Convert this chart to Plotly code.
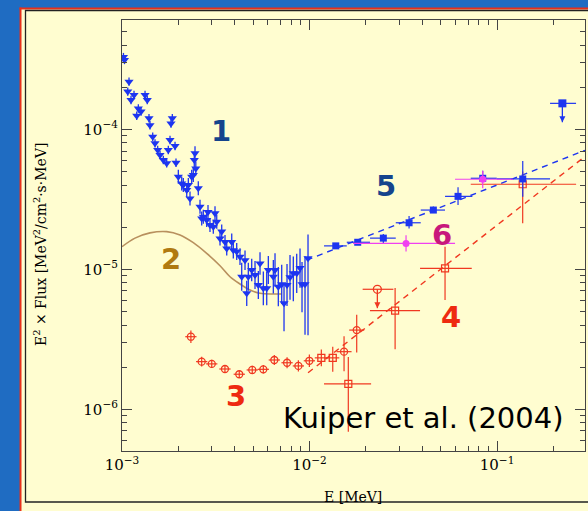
import math
import plotly.graph_objects as go

# ---------------- data ----------------
# Series 1: blue down-triangles (energy MeV, E^2 flux)
s1_energy = [1.018e-3, 1.031e-3, 1.073e-3, 1.090e-3, 1.117e-3, 1.159e-3, 1.198e-3, 1.222e-3, 1.263e-3, 1.327e-3,
             1.364e-3, 1.393e-3, 1.410e-3, 1.458e-3, 1.500e-3, 1.550e-3, 1.595e-3, 1.661e-3, 1.731e-3, 1.766e-3,
             1.803e-3, 1.825e-3, 1.855e-3, 1.918e-3, 1.941e-3, 1.997e-3, 2.082e-3, 2.123e-3, 2.214e-3, 2.258e-3,
             2.305e-3, 2.353e-3, 2.400e-3, 2.429e-3, 2.451e-3, 2.475e-3, 2.552e-3, 2.606e-3, 2.661e-3, 2.714e-3,
             2.829e-3, 2.875e-3, 2.946e-3, 3.069e-3, 3.133e-3, 3.200e-3, 3.332e-3, 3.402e-3, 3.543e-3, 3.618e-3,
             3.847e-3, 3.923e-3, 4.090e-3, 4.259e-3, 4.349e-3, 4.529e-3, 4.625e-3, 4.716e-3, 4.917e-3, 5.121e-3,
             5.333e-3, 5.445e-3, 5.671e-3, 5.912e-3, 6.030e-3, 6.412e-3, 6.546e-3, 6.817e-3, 7.107e-3, 7.311e-3,
             7.586e-3, 7.870e-3, 8.196e-3, 8.545e-3, 8.898e-3, 9.120e-3, 9.462e-3, 9.817e-3]
s1_flux = [3.28e-4, 3.13e-4, 1.86e-4, 2.19e-4, 1.62e-4, 1.76e-4, 1.25e-4, 1.41e-4, 1.34e-4, 1.76e-4,
           1.62e-4, 1.20e-4, 1.07e-4, 8.86e-5, 7.94e-5, 7.11e-5, 6.55e-5, 6.04e-5, 5.72e-5, 7.11e-5,
           8.39e-5, 1.10e-4, 1.20e-4, 7.60e-5, 5.77e-5, 4.59e-5, 4.11e-5, 4.00e-5, 3.69e-5, 4.00e-5,
           3.21e-5, 4.59e-5, 4.72e-5, 6.04e-5, 6.74e-5, 5.26e-5, 3.79e-5, 2.80e-5, 2.31e-5, 2.37e-5,
           2.25e-5, 2.57e-5, 2.07e-5, 2.01e-5, 2.51e-5, 2.19e-5, 1.66e-5, 1.86e-5, 1.57e-5, 1.41e-5,
           1.57e-5, 1.37e-5, 1.34e-5, 1.23e-5, 8.85e-6, 1.16e-5, 6.74e-6, 8.85e-6, 9.89e-6, 9.10e-6,
           7.72e-6, 1.10e-5, 7.31e-6, 7.31e-6, 9.89e-6, 8.85e-6, 9.89e-6, 7.51e-6, 7.81e-6, 5.72e-6,
           7.72e-6, 8.77e-6, 9.36e-6, 9.36e-6, 1.02e-5, 7.81e-6, 7.81e-6, 1.20e-5]
# error bars in dex (up / down)
s1_err_up_dex = [0.03] * 25 + [0.05] * 25 + [0.06, 0.06, 0.06, 0.06, 0.10, 0.07, 0.09, 0.10, 0.08, 0.10,
                                             0.10, 0.08, 0.12, 0.12, 0.10, 0.12, 0.12, 0.14, 0.14, 0.13,
                                             0.15, 0.16, 0.12, 0.14, 0.14, 0.16, 0.20, 0.17]
s1_err_dn_dex = [0.03] * 25 + [0.05] * 25 + [0.06, 0.06, 0.06, 0.06, 0.10, 0.07, 0.09, 0.10, 0.08, 0.10,
                                             0.10, 0.08, 0.12, 0.12, 0.10, 0.12, 0.12, 0.14, 0.14, 0.20,
                                             0.15, 0.16, 0.20, 0.14, 0.14, 0.20, 0.36, 0.55]

# Series 2: model curve (brown)
s2_energy = [1.000e-3, 1.173e-3, 1.410e-3, 1.731e-3, 2.039e-3, 2.400e-3, 2.829e-3, 3.332e-3, 3.767e-3,
             4.259e-3, 4.816e-3, 5.445e-3, 6.412e-3, 7.107e-3]
s2_flux = [1.45e-5, 1.67e-5, 1.82e-5, 1.86e-5, 1.76e-5, 1.55e-5, 1.30e-5, 1.06e-5, 8.85e-6,
           7.85e-6, 7.11e-6, 6.74e-6, 6.66e-6, 6.66e-6]

# Series 3: red open circles
s3_energy = [2.33e-3, 2.66e-3, 3.01e-3, 3.54e-3, 4.22e-3, 4.95e-3, 5.67e-3, 6.49e-3, 7.59e-3, 8.72e-3,
             9.98e-3, 1.528e-2, 1.785e-2]
s3_flux = [3.30e-6, 2.19e-6, 2.11e-6, 1.94e-6, 1.78e-6, 1.91e-6, 1.93e-6, 2.25e-6, 2.15e-6, 2.04e-6,
           2.22e-6, 2.58e-6, 3.68e-6]
s3_xerr_dex = [0.03] * 11 + [0.04, 0.04]
s3_err_up_dex = [0.045, 0.035, 0.03, 0.025, 0.025, 0.03, 0.03, 0.035, 0.04, 0.04, 0.045, 0.11, 0.11]
s3_err_dn_dex = [0.045, 0.035, 0.03, 0.025, 0.025, 0.03, 0.03, 0.035, 0.04, 0.04, 0.045, 0.14, 0.16]
# Series 3: red small squares
s3b_energy = [1.156e-2, 1.330e-2]
s3b_flux = [2.33e-6, 2.33e-6]
s3b_xerr_dex = [0.035, 0.035]
s3b_err_up_dex = [0.06, 0.08]
s3b_err_dn_dex = [0.06, 0.10]
# Series 3: upper limit
s3_ul_energy = [2.30e-2]
s3_ul_flux = [7.20e-6]
s3_ul_e_lo = [1.92e-2]
s3_ul_e_hi = [2.80e-2]

# Series 4: red open squares (with bounds)
s4_energy = [1.61e-2, 2.86e-2, 5.28e-2, 0.137]
s4_flux = [1.52e-6, 5.06e-6, 1.016e-5, 4.05e-5]
s4_e_lo = [1.195e-2, 2.10e-2, 3.885e-2, 7.24e-2]
s4_e_hi = [2.13e-2, 3.885e-2, 7.33e-2, 0.264]
s4_f_lo = [6.9e-7, 2.68e-6, 6.03e-6, 2.13e-5]
s4_f_hi = [2.36e-6, 7.35e-6, 1.45e-5, 5.0e-5]
# Series 4: power law (red dashed)
pl4_energy = [9.82e-3, 0.2944]
pl4_flux = [1.824e-6, 6.40e-5]

# Series 5: blue filled squares
s5_energy = [1.38e-2, 1.807e-2, 2.475e-2, 3.395e-2, 4.574e-2, 6.194e-2, 8.386e-2, 0.1371]
s5_flux = [1.47e-5, 1.56e-5, 1.67e-5, 2.15e-5, 2.65e-5, 3.32e-5, 4.47e-5, 4.42e-5]
s5_e_lo = [1.195e-2, 1.58e-2, 2.102e-2, 2.883e-2, 3.918e-2, 5.28e-2, 7.24e-2, 9.963e-2]
s5_e_hi = [1.58e-2, 2.102e-2, 2.883e-2, 3.918e-2, 5.28e-2, 7.385e-2, 9.963e-2, 0.1917]
s5_f_lo = [1.42e-5, 1.51e-5, 1.53e-5, 1.96e-5, 2.54e-5, 2.88e-5, 4.22e-5, 3.30e-5]
s5_f_hi = [1.52e-5, 1.61e-5, 1.79e-5, 2.40e-5, 2.81e-5, 3.85e-5, 5.06e-5, 5.94e-5]
s5_ul_energy = [0.223]
s5_ul_flux = [1.533e-4]
s5_ul_e_lo = [0.1917]
s5_ul_e_hi = [0.2638]
# Series 5: power law (blue dashed)
pl5_energy = [9.66e-3, 0.2944]
pl5_flux = [1.164e-5, 7.08e-5]

# Series 6: magenta
s6_energy = [3.271e-2, 8.386e-2]
s6_flux = [1.53e-5, 4.40e-5]
s6_e_lo = [1.706e-2, 5.97e-2]
s6_e_hi = [5.97e-2, 0.1217]
s6_f_lo = [1.34e-5, 3.79e-5]
s6_f_hi = [1.75e-5, 5.06e-5]

x_tick_vals = [1e-3, 1e-2, 1e-1]
x_tick_text = ["10<sup>\u22123</sup>", "10<sup>\u22122</sup>", "10<sup>\u22121</sup>"]
y_tick_vals = [1e-6, 1e-5, 1e-4]
y_tick_text = ["10<sup>\u22126</sup>", "10<sup>\u22125</sup>", "10<sup>\u22124</sup>"]

# ---------------- helpers ----------------
def dex_err(vals, up, dn):
    return ([v * (10 ** u - 1) for v, u in zip(vals, up)],
            [v * (1 - 10 ** (-d)) for v, d in zip(vals, dn)])

def bound_err(vals, lo, hi):
    return ([h - v for v, h in zip(vals, hi)], [v - l for v, l in zip(vals, lo)])

BLUE = "#1d35f0"
RED = "#f03820"
MAG = "#f040f0"
BROWN = "#b8905e"
ARROW_DEX = 0.135  # drawn length of the upper-limit arrows (style)

fig = go.Figure()

# model curve
fig.add_trace(go.Scatter(x=s2_energy, y=s2_flux, mode="lines", line=dict(color=BROWN, width=1.6, shape="spline"),
                         hoverinfo="skip"))
# power laws
fig.add_trace(go.Scatter(x=pl4_energy, y=pl4_flux, mode="lines", line=dict(color=RED, width=1.4, dash="6px,5px")))
fig.add_trace(go.Scatter(x=pl5_energy, y=pl5_flux, mode="lines", line=dict(color=BLUE, width=1.4, dash="6px,5px")))

# series 3 circles
p, m = dex_err(s3_flux, s3_err_up_dex, s3_err_dn_dex)
xp, xm = dex_err(s3_energy, s3_xerr_dex, s3_xerr_dex)
fig.add_trace(go.Scatter(x=s3_energy, y=s3_flux, mode="markers",
                         marker=dict(symbol="circle-open", size=7, color=RED, line=dict(width=1.3)),
                         error_y=dict(type="data", symmetric=False, array=p, arrayminus=m, color=RED, thickness=1.2, width=0),
                         error_x=dict(type="data", symmetric=False, array=xp, arrayminus=xm, color=RED, thickness=1.2, width=0)))
p, m = dex_err(s3b_flux, s3b_err_up_dex, s3b_err_dn_dex)
xp, xm = dex_err(s3b_energy, s3b_xerr_dex, s3b_xerr_dex)
fig.add_trace(go.Scatter(x=s3b_energy, y=s3b_flux, mode="markers",
                         marker=dict(symbol="square-open", size=7, color=RED, line=dict(width=1.3)),
                         error_y=dict(type="data", symmetric=False, array=p, arrayminus=m, color=RED, thickness=1.2, width=0),
                         error_x=dict(type="data", symmetric=False, array=xp, arrayminus=xm, color=RED, thickness=1.2, width=0)))
xp, xm = bound_err(s3_ul_energy, s3_ul_e_lo, s3_ul_e_hi)
fig.add_trace(go.Scatter(x=s3_ul_energy, y=s3_ul_flux, mode="markers",
                         marker=dict(symbol="circle-open", size=8, color=RED, line=dict(width=1.3)),
                         error_x=dict(type="data", symmetric=False, array=xp, arrayminus=xm, color=RED, thickness=1.2, width=0)))

# series 4 squares
p, m = bound_err(s4_flux, s4_f_lo, s4_f_hi)
xp, xm = bound_err(s4_energy, s4_e_lo, s4_e_hi)
fig.add_trace(go.Scatter(x=s4_energy, y=s4_flux, mode="markers",
                         marker=dict(symbol="square-open", size=7, color=RED, line=dict(width=1.2)),
                         error_y=dict(type="data", symmetric=False, array=p, arrayminus=m, color=RED, thickness=1.2, width=0),
                         error_x=dict(type="data", symmetric=False, array=xp, arrayminus=xm, color=RED, thickness=1.2, width=0)))

# series 1 triangles
p, m = dex_err(s1_flux, s1_err_up_dex, s1_err_dn_dex)
fig.add_trace(go.Scatter(x=s1_energy, y=s1_flux, mode="markers",
                         marker=dict(symbol="triangle-down", size=8, color=BLUE),
                         error_y=dict(type="data", symmetric=False, array=p, arrayminus=m, color=BLUE, thickness=1.3, width=0)))

# series 5 squares
p, m = bound_err(s5_flux, s5_f_lo, s5_f_hi)
xp, xm = bound_err(s5_energy, s5_e_lo, s5_e_hi)
fig.add_trace(go.Scatter(x=s5_energy, y=s5_flux, mode="markers",
                         marker=dict(symbol="square", size=7, color=BLUE),
                         error_y=dict(type="data", symmetric=False, array=p, arrayminus=m, color=BLUE, thickness=1.2, width=0),
                         error_x=dict(type="data", symmetric=False, array=xp, arrayminus=xm, color=BLUE, thickness=1.2, width=0)))
xp, xm = bound_err(s5_ul_energy, s5_ul_e_lo, s5_ul_e_hi)
fig.add_trace(go.Scatter(x=s5_ul_energy, y=s5_ul_flux, mode="markers",
                         marker=dict(symbol="square", size=8, color=BLUE),
                         error_x=dict(type="data", symmetric=False, array=xp, arrayminus=xm, color=BLUE, thickness=1.2, width=0)))

# series 6 magenta
p, m = bound_err(s6_flux, s6_f_lo, s6_f_hi)
xp, xm = bound_err(s6_energy, s6_e_lo, s6_e_hi)
fig.add_trace(go.Scatter(x=s6_energy, y=s6_flux, mode="markers",
                         marker=dict(symbol="circle", size=7, color=MAG),
                         error_y=dict(type="data", symmetric=False, array=p, arrayminus=m, color=MAG, thickness=1.2, width=0),
                         error_x=dict(type="data", symmetric=False, array=xp, arrayminus=xm, color=MAG, thickness=1.2, width=0)))

# ---------------- upper-limit arrows (drawn as traces) ----------------
for e, f, col in [(s3_ul_energy[0], s3_ul_flux[0], RED), (s5_ul_energy[0], s5_ul_flux[0], BLUE)]:
    tip = f * 10 ** (-ARROW_DEX)
    fig.add_trace(go.Scatter(x=[e, e], y=[f, tip], mode="lines", line=dict(color=col, width=1.3), hoverinfo="skip"))
    fig.add_trace(go.Scatter(x=[e], y=[tip], mode="markers", hoverinfo="skip",
                             marker=dict(symbol="arrow-down", size=6, color=col)))

# ---------------- labels ----------------
annotations = []

def px2paper(px, py):
    return (px - 122) / 463.0, (451 - py) / 431.0

label_font = "DejaVu Sans"
for txt, (px, py), col in [("1", (220.7, 131), "#15448c"), ("2", (171, 259.3), "#b07a10"),
                           ("3", (236, 396), "#ee2a10"), ("4", (451, 317.3), "#ee2a10"),
                           ("5", (386, 186), "#15448c"), ("6", (442, 235), "#c8187c")]:
    x, y = px2paper(px, py)
    annotations.append(dict(x=x, y=y, xref="paper", yref="paper", text="<b>%s</b>" % txt, showarrow=False,
                            font=dict(family=label_font, size=29, color=col), xanchor="center", yanchor="middle"))

x, y = px2paper(423.5, 418)
annotations.append(dict(x=x, y=y, xref="paper", yref="paper", text="Kuiper et al. (2004)", showarrow=False,
                        font=dict(family="DejaVu Sans", size=29, color="black"), xanchor="center", yanchor="middle"))

serif = "DejaVu Serif"
x, y = px2paper(40, 245)
annotations.append(dict(x=x, y=y, xref="paper", yref="paper",
                        text="E<sup>2</sup> \u00d7 Flux [MeV<sup>2</sup>/cm<sup>2</sup>\u00b7s\u00b7MeV]",
                        textangle=-90, showarrow=False, font=dict(family=serif, size=14, color="black"),
                        xanchor="center", yanchor="middle"))
x, y = px2paper(353, 497)
annotations.append(dict(x=x, y=y, xref="paper", yref="paper", text="E [MeV]", showarrow=False,
                        font=dict(family=serif, size=14, color="black"), xanchor="center", yanchor="middle"))

# ---------------- frame shapes ----------------
shapes = []
def rect(px0, py0, px1, py1, **kw):
    x0, y0 = px2paper(px0, py1)
    x1, y1 = px2paper(px1, py0)
    d = dict(type="rect", xref="paper", yref="paper", x0=x0, y0=y0, x1=x1, y1=y1, layer="below")
    d.update(kw)
    return d

shapes.append(rect(0, 0, 20, 511, fillcolor="#1f6cc2", line=dict(width=0)))
shapes.append(rect(0, 0, 588, 8, fillcolor="#1f6cc2", line=dict(width=0)))
shapes.append(rect(19.5, 7.5, 21.5, 511, fillcolor="#e8301a", line=dict(width=0)))
shapes.append(rect(19.5, 7.5, 588, 9.5, fillcolor="#e8301a", line=dict(width=0)))
shapes.append(rect(25.5, 10.5, 600, 502, fillcolor="rgba(0,0,0,0)", line=dict(color="#222", width=1.3)))

minor_x = [k * 10 ** e for e in (-3, -2, -1) for k in range(2, 10)]
minor_y = [k * 10 ** e for e in (-7, -6, -5, -4) for k in range(2, 10)]

axis_common = dict(type="log", showgrid=False, zeroline=False, showline=True, linecolor="#444", linewidth=1.2,
                   mirror="allticks", ticks="inside", ticklen=10, tickwidth=1, tickcolor="#444",
                   tickmode="array", tickfont=dict(family=serif, size=15, color="black"))

fig.update_layout(
    width=588, height=511, autosize=False,
    margin=dict(l=122, r=3, t=20, b=60),
    paper_bgcolor="#fffdd0", plot_bgcolor="#fffdd0",
    showlegend=False,
    xaxis=dict(axis_common, range=[-3, -0.531], tickvals=x_tick_vals, ticktext=x_tick_text,
               minor=dict(tickmode="array", tickvals=minor_x, ticks="inside", ticklen=5, tickcolor="#444", showgrid=False)),
    yaxis=dict(axis_common, range=[-6.298, -3.219], tickvals=y_tick_vals, ticktext=y_tick_text,
               minor=dict(tickmode="array", tickvals=minor_y, ticks="inside", ticklen=5, tickcolor="#444", showgrid=False)),
    annotations=annotations,
    shapes=shapes,
)

fig.write_html("out.html")
